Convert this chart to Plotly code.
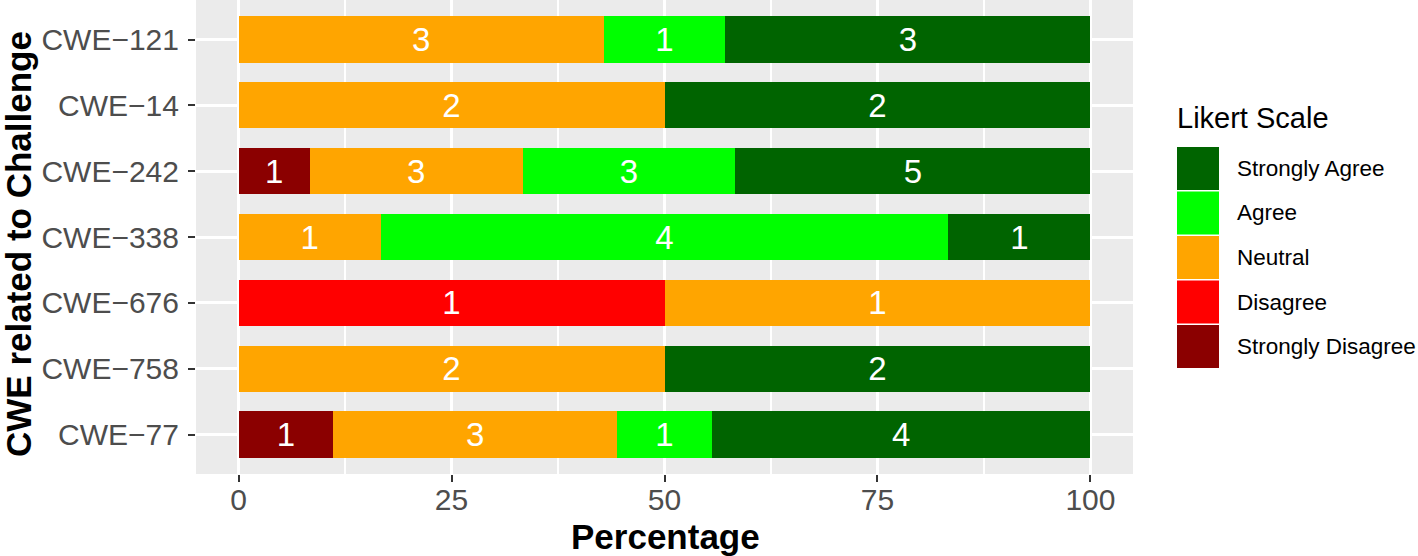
import plotly.graph_objects as go

# ---------------- data ----------------
cwe = ["CWE−121", "CWE−14", "CWE−242", "CWE−338", "CWE−676", "CWE−758", "CWE−77"]
likert_levels = ["Strongly Disagree", "Disagree", "Neutral", "Agree", "Strongly Agree"]
strongly_disagree = [0, 0, 1, 0, 0, 0, 1]
disagree = [0, 0, 0, 0, 1, 0, 0]
neutral = [3, 2, 3, 1, 1, 2, 3]
agree = [1, 0, 3, 4, 0, 0, 1]
strongly_agree = [3, 2, 5, 1, 0, 2, 4]
level_colors = ["#8B0000", "#FF0000", "#FFA500", "#00FF00", "#006400"]
x_ticks = [0, 25, 50, 75, 100]

counts = [strongly_disagree, disagree, neutral, agree, strongly_agree]
totals = [sum(c[i] for c in counts) for i in range(len(cwe))]

FONT = "Liberation Sans, Arial, Helvetica, sans-serif"
W, H = 1418, 556
ML, MR, MT, MB = 196, 285, 0, 82
PW, PH = W - ML - MR, H - MT - MB


def px(x):
    return (x - ML) / PW


def py(y):
    return (H - MB - y) / PH


fig = go.Figure()
for lvl, col, cnt in zip(likert_levels, level_colors, counts):
    pct = [c / t * 100 for c, t in zip(cnt, totals)]
    fig.add_trace(go.Bar(
        y=cwe, x=pct, orientation="h", name=lvl,
        marker=dict(color=col, line=dict(width=0)),
        width=0.7,
        text=[str(c) if c > 0 else "" for c in cnt],
        textposition="inside", insidetextanchor="middle", textangle=0,
        textfont=dict(family=FONT, size=33, color="white"),
        showlegend=False, hoverinfo="skip",
    ))

fig.update_layout(
    width=W, height=H,
    barmode="stack",
    margin=dict(l=ML, r=MR, t=MT, b=MB, pad=0),
    paper_bgcolor="white",
    plot_bgcolor="#EBEBEB",
    font=dict(family=FONT),
    uniformtext=dict(minsize=10, mode="show"),
)
fig.update_xaxes(
    range=[-5, 105], tickvals=x_ticks, ticktext=[str(v) for v in x_ticks],
    showgrid=True, gridcolor="white", gridwidth=3,
    minor=dict(dtick=12.5, tick0=0, showgrid=True, gridcolor="white", gridwidth=1.5),
    zeroline=False, showline=False,
    ticks="outside", ticklen=7, tickwidth=2, tickcolor="#333333",
    tickfont=dict(family=FONT, size=30, color="#4D4D4D"),
    ticklabelstandoff=-8,
)
fig.update_yaxes(
    categoryorder="array", categoryarray=cwe, range=[6.6, -0.6],
    showgrid=True, gridcolor="white", gridwidth=3,
    zeroline=False, showline=False,
    ticks="outside", ticklen=7, tickwidth=2, tickcolor="#333333",
    tickfont=dict(family=FONT, size=30, color="#4D4D4D"),
    ticklabelstandoff=3,
)

annotations = [
    dict(text="<b>Percentage</b>", x=px(665), y=py(536), xref="paper", yref="paper",
         xanchor="center", yanchor="middle", showarrow=False,
         font=dict(family=FONT, size=35, color="black")),
    dict(text="<b>CWE related to Challenge</b>", x=px(19), y=py(244), xref="paper", yref="paper",
         xanchor="center", yanchor="middle", textangle=-90, showarrow=False,
         font=dict(family=FONT, size=35, color="black")),
    dict(text="Likert Scale", x=px(1175), y=py(118), xref="paper", yref="paper",
         xanchor="left", yanchor="middle", showarrow=False,
         font=dict(family=FONT, size=29, color="black")),
]
shapes = []
key_top = 147
key_step = 44.5
for i, (lvl, col) in enumerate(zip(likert_levels[::-1], level_colors[::-1])):
    top = key_top + i * key_step
    shapes.append(dict(type="rect", xref="paper", yref="paper",
                       x0=px(1177), x1=px(1219), y0=py(top + 43), y1=py(top),
                       fillcolor=col, line=dict(width=0)))
    annotations.append(dict(text=lvl, x=px(1235), y=py(top + 21.5), xref="paper", yref="paper",
                            xanchor="left", yanchor="middle", showarrow=False,
                            font=dict(family=FONT, size=22.5, color="black")))

fig.update_layout(annotations=annotations, shapes=shapes)
fig.write_html("out.html", config={"displayModeBar": False},
               post_script="document.body.style.margin='0';")
